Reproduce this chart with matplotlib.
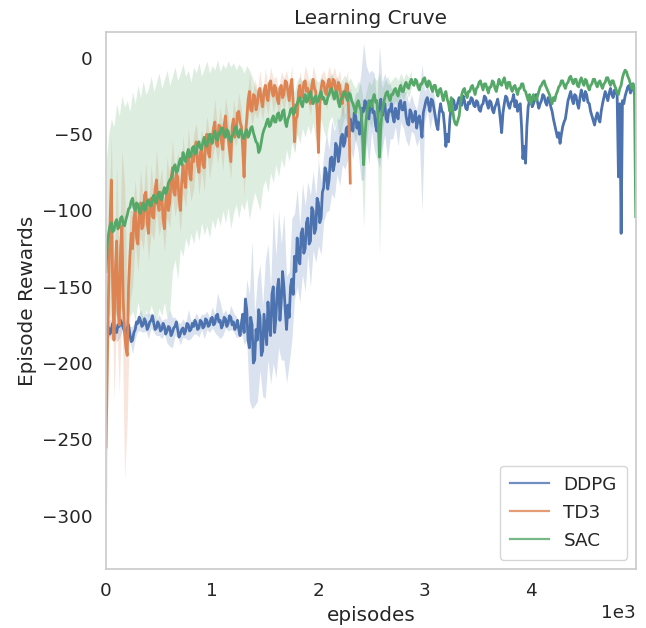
import numpy as np
import matplotlib
matplotlib.use("Agg")
import matplotlib.pyplot as plt

# ---------------- data ----------------
# mean curves: one value every 12.5 episodes; bands: one value every 25 episodes
LINE_STEP = 12.5
BAND_STEP = 25
labels = ["DDPG", "TD3", "SAC"]
x_ticks = [0, 1000, 2000, 3000, 4000]
y_ticks = [0, -50, -100, -150, -200, -250, -300]

ddpg_mean = [
    -180, -176, -177, -181, -178, -174, -175, -179, -180, -175, -176, -172, -174, -177, -179, -182, -177, -175, -181, -186,
    -185, -180, -178, -173, -174, -170, -172, -176, -175, -171, -173, -178, -176, -173, -172, -169, -174, -178, -177, -173,
    -175, -179, -178, -174, -176, -181, -179, -176, -177, -182, -180, -177, -176, -173, -178, -183, -181, -178, -177, -181,
    -179, -174, -175, -179, -178, -174, -176, -172, -174, -178, -177, -172, -173, -177, -176, -171, -172, -176, -175, -171,
    -170, -175, -174, -169, -168, -173, -172, -177, -175, -170, -171, -176, -174, -169, -170, -175, -173, -178, -176, -172,
    -178, -182, -174, -168, -180, -158, -165, -185, -190, -170, -175, -200, -198, -178, -185, -165, -170, -195, -192, -168,
    -178, -188, -160, -175, -182, -155, -150, -180, -170, -152, -145, -172, -160, -140, -150, -165, -178, -162, -170, -150,
    -145, -155, -130, -140, -118, -132, -135, -115, -112, -128, -125, -108, -105, -122, -120, -98, -100, -115, -112, -92,
    -95, -108, -105, -88, -85, -72, -75, -86, -80, -66, -65, -74, -70, -56, -58, -68, -62, -52, -50, -58,
    -55, -46, -45, -52, -40, -47, -48, -36, -38, -46, -42, -50, -45, -33, -35, -28, -30, -38, -40, -30,
    -28, -36, -35, -44, -48, -36, -32, -27, -38, -32, -30, -40, -42, -34, -35, -30, -38, -42, -33, -37,
    -40, -30, -28, -34, -34, -29, -38, -43, -44, -34, -36, -42, -40, -35, -46, -40, -38, -44, -52, -36,
    -32, -28, -26, -31, -35, -27, -28, -33, -38, -44, -47, -36, -30, -35, -36, -45, -58, -50, -55, -40,
    -32, -27, -28, -34, -33, -29, -26, -30, -31, -25, -28, -33, -34, -29, -30, -26, -27, -31, -32, -28,
    -29, -34, -35, -31, -30, -25, -26, -30, -33, -28, -29, -34, -36, -32, -30, -27, -32, -40, -49, -36,
    -30, -25, -26, -31, -33, -29, -28, -24, -32, -28, -35, -31, -30, -45, -66, -58, -69, -45, -32, -28,
    -26, -32, -30, -27, -24, -29, -33, -30, -28, -24, -25, -29, -31, -26, -27, -32, -35, -40, -44, -48,
    -52, -49, -56, -50, -45, -42, -40, -34, -28, -25, -22, -27, -30, -24, -25, -30, -33, -26, -21, -25,
    -28, -22, -24, -29, -30, -35, -38, -41, -44, -39, -36, -40, -42, -35, -30, -26, -22, -25, -28, -23,
    -20, -24, -26, -21, -22, -25, -78, -30, -115, -28, -30, -25, -22, -19, -18, -23, -20, -17, -24, -20,
]
ddpg_std = [
    6, 5, 7, 5, 6, 8, 5, 6, 7, 5,
    9, 6, 5, 7, 5, 6, 8, 5, 6, 5,
    7, 6, 5, 8, 12, 10, 6, 5, 7, 6,
    5, 10, 6, 5, 7, 6, 5, 8, 6, 5,
    7, 6, 14, 12, 7, 6, 5, 8, 6, 7,
    5, 6, 8, 20, 35, 55, 30, 40, 35, 30,
    45, 38, 32, 50, 40, 45, 38, 48, 35, 30,
    40, 28, 32, 25, 30, 28, 24, 30, 26, 22,
    28, 24, 22, 26, 20, 24, 22, 18, 22, 20,
    18, 22, 20, 18, 15, 20, 35, 45, 25, 30,
    20, 25, 18, 40, 22, 20, 25, 18, 15, 12,
    18, 14, 12, 16, 14, 12, 10, 12, 15, 48,
    10, 8, 12, 10, 8,
]

td3_mean = [
    -255, -200, -150, -110, -80, -150, -185, -140, -120, -165, -175, -125, -110, -160, -180, -190, -195, -150, -130, -115,
    -125, -105, -100, -118, -122, -100, -95, -112, -110, -90, -88, -108, -115, -96, -92, -104, -105, -86, -80, -96,
    -100, -88, -90, -105, -112, -94, -85, -100, -95, -80, -72, -88, -90, -76, -78, -92, -100, -82, -70, -80,
    -85, -66, -62, -76, -80, -64, -68, -58, -55, -70, -75, -62, -60, -70, -72, -55, -50, -62, -65, -50,
    -55, -46, -42, -56, -58, -44, -45, -55, -60, -44, -38, -50, -52, -60, -68, -45, -40, -52, -48, -36,
    -35, -42, -45, -60, -78, -50, -40, -28, -22, -34, -35, -24, -25, -34, -30, -22, -20, -28, -32, -22,
    -18, -25, -28, -17, -15, -22, -25, -18, -20, -27, -30, -20, -18, -26, -24, -15, -16, -22, -28, -18,
    -14, -30, -55, -40, -38, -22, -18, -26, -25, -16, -15, -22, -20, -26, -30, -18, -14, -20, -22, -35,
    -62, -30, -20, -15, -16, -22, -24, -17, -14, -20, -20, -14, -15, -21, -22, -16, -18, -26, -30, -22,
    -25, -17, -18, -40, -82,
]
td3_std = [
    66, 40, 30, 40, 50, 45, 50, 97, 42, 30,
    25, 20, 18, 22, 16, 20, 18, 22, 15, 20,
    17, 18, 15, 20, 16, 18, 14, 17, 15, 19,
    13, 16, 14, 18, 12, 15, 13, 16, 12, 14,
    12, 15, 11, 13, 14, 12, 15, 11, 13, 10,
    12, 11, 13, 10, 12, 9, 11, 10, 12, 9,
    11, 10, 9, 11, 8, 10, 9, 11, 8, 10,
    9, 8, 10, 9, 8, 10, 9, 8, 9, 10,
    8, 9, 8, 10, 9, 8, 9, 8, 10, 9,
    8, 10, 12,
]

sac_mean = [
    -140, -122, -115, -110, -108, -114, -113, -108, -106, -112, -110, -105, -104, -109, -110, -106, -103, -99, -98, -94,
    -92, -98, -100, -95, -96, -101, -102, -97, -95, -100, -99, -94, -93, -97, -97, -92, -90, -94, -95, -90,
    -88, -92, -93, -88, -85, -89, -87, -82, -80, -79, -76, -72, -70, -75, -74, -69, -66, -70, -62, -66,
    -68, -63, -60, -65, -64, -59, -58, -63, -62, -57, -55, -59, -60, -55, -52, -57, -58, -53, -50, -54,
    -56, -51, -48, -53, -54, -49, -50, -46, -46, -51, -52, -47, -48, -53, -55, -51, -50, -46, -45, -50,
    -52, -47, -48, -52, -53, -49, -47, -52, -50, -46, -45, -49, -52, -55, -56, -62, -60, -55, -50, -47,
    -45, -42, -40, -45, -44, -40, -38, -42, -42, -37, -36, -41, -40, -35, -34, -42, -45, -40, -38, -34,
    -33, -37, -36, -31, -30, -27, -26, -30, -32, -27, -24, -29, -28, -24, -22, -27, -30, -26, -25, -29,
    -28, -24, -22, -27, -26, -30, -30, -26, -24, -21, -20, -24, -27, -22, -23, -29, -32, -27, -26, -23,
    -22, -26, -28, -23, -24, -28, -30, -33, -36, -30, -28, -32, -34, -45, -70, -52, -40, -33, -28, -31,
    -32, -27, -24, -29, -28, -40, -65, -45, -35, -30, -26, -23, -22, -26, -28, -24, -24, -21, -20, -23,
    -25, -20, -18, -22, -22, -18, -16, -19, -20, -16, -14, -17, -18, -14, -15, -19, -21, -17, -17, -14,
    -13, -17, -19, -15, -16, -20, -22, -18, -18, -22, -25, -21, -20, -24, -28, -24, -22, -27, -30, -35,
    -26, -33, -40, -43, -44, -41, -38, -30, -24, -21, -20, -24, -26, -22, -22, -19, -18, -21, -24, -20,
    -19, -16, -15, -18, -21, -17, -17, -20, -23, -19, -19, -15, -16, -20, -22, -18, -14, -17, -18, -15,
    -13, -17, -20, -16, -16, -20, -22, -19, -18, -21, -24, -20, -20, -17, -17, -21, -22, -25, -28, -24,
    -30, -26, -24, -27, -28, -25, -22, -19, -18, -16, -15, -18, -20, -22, -24, -27, -30, -26, -28, -24,
    -22, -19, -18, -15, -15, -18, -20, -17, -16, -13, -12, -15, -17, -14, -14, -18, -19, -15, -13, -16,
    -18, -14, -15, -19, -21, -18, -17, -14, -14, -17, -19, -16, -15, -18, -20, -17, -16, -13, -13, -16,
    -18, -15, -15, -18, -20, -23, -24, -20, -18, -13, -10, -8, -9, -12, -14, -17, -20, -17, -22, -104,
]
sac_low = [
    -175, -168, -172, -165, -170, -160, -168, -174, -163, -170,
    -166, -172, -160, -169, -175, -165, -170, -162, -168, -173,
    -164, -169, -160, -171, -166, -140, -132, -145, -125, -130,
    -118, -124, -115, -122, -112, -120, -108, -116, -110, -118,
    -106, -112, -104, -110, -100, -108, -98, -112, -102, -96,
    -105, -95, -100, -92, -106, -96, -88, -94, -100, -85,
    -80, -88, -75, -82, -70, -78, -66, -72, -60, -68,
    -55, -62, -50, -56, -46, -52, -44, -50, -42, -55,
    -45, -40, -48, -52, -42, -38, -46, -40, -55, -44,
    -38, -45, -40, -48, -56, -45, -60, -112, -58, -42,
    -46, -36, -40, -130, -50, -36, -30, -38, -32, -28,
    -34, -24, -28, -22, -26, -20,
]
sac_high = [
    -70, -50, -40, -45, -30, -38, -25, -32, -28, -35,
    -22, -30, -18, -26, -15, -24, -20, -12, -22, -16,
    -10, -20, -14, -8, -18, -12, -6, -15, -10, -4,
    -12, -8, -16, -6, -10, -3, -12, -7, -2, -10,
    -5, -8, -1, -9, -4, -7, -2, -6, -3, -8,
    -4, -6, -10, -5, -8, -12, -18, -22, -25, -20,
    -18, -15, -20, -16, -22, -18, -24, -20, -17, -22,
    -18, -22, -15, -12, -18, -14, -16, -12, -18, -14,
    -16, -12, -15, -18, -13, -10, -15, -12, -18, -14,
    -11, -16, -13, -17, -20, -15, -18, -30, -22, -15,
    -18, -12, -15, -10, -20, -15, -12, -16, -14, -12,
    -15, -10, -14, -10, -13, -8,
]

# ---------------- style ----------------
plt.rcParams.update({
    "font.family": ["DejaVu Sans"],
    "text.color": "#262626",
    "axes.labelcolor": "#262626",
    "xtick.color": "#262626",
    "ytick.color": "#262626",
})
colors = ["#4C72B0", "#DD8452", "#55A868"]

fig = plt.figure(figsize=(6.46, 6.28), dpi=100)
ax = fig.add_axes([106 / 646, 59 / 628, 530 / 646, 537 / 628])


def draw(mean, low, high, color, label):
    mean = np.asarray(mean, dtype=float)
    x = np.arange(len(mean)) * LINE_STEP
    ax.plot(x, mean, color=color, lw=2.0, label=label)
    n = min(len(low), len(high))
    xb = np.arange(n) * BAND_STEP
    ax.fill_between(xb, low[:n], high[:n], color=color, alpha=0.2, lw=0)


ratio = int(round(BAND_STEP / LINE_STEP))

dm = np.asarray(ddpg_mean, float)
ds = np.asarray(ddpg_std, float)
dc = dm[::ratio][:len(ds)]
draw(dm, dc - ds[:len(dc)], dc + ds[:len(dc)], colors[0], labels[0])

tm = np.asarray(td3_mean, float)
ts = np.asarray(td3_std, float)
tc = tm[::ratio][:len(ts)]
draw(tm, tc - ts[:len(tc)], tc + ts[:len(tc)], colors[1], labels[1])

draw(sac_mean, np.asarray(sac_low, float), np.asarray(sac_high, float), colors[2], labels[2])

ax.set_xlim(0, 4990)
ax.set_ylim(-335, 17)
ax.set_xticks(x_ticks)
ax.set_yticks(y_ticks)
ax.ticklabel_format(axis="x", style="sci", scilimits=(0, 0))
ax.tick_params(axis="both", which="both", length=0, pad=9.5, labelsize=13.2)
ax.xaxis.get_offset_text().set_fontsize(13.2)
for s in ax.spines.values():
    s.set_color("#cccccc")
    s.set_linewidth(1.25)

ax.set_title("Learning Cruve", fontsize=14.4)
ax.set_xlabel("episodes", fontsize=14.4)
ax.set_ylabel("Episode Rewards", fontsize=14.4)

leg = ax.legend(loc="lower right", fontsize=13.2, frameon=True, fancybox=True,
                labelspacing=0.55, borderpad=0.55, handlelength=2.1)
for h in leg.get_lines():
    h.set_linewidth(1.6)
    h.set_alpha(0.8)
leg.get_frame().set_edgecolor("#cccccc")

fig.savefig("out.png", dpi=100)
